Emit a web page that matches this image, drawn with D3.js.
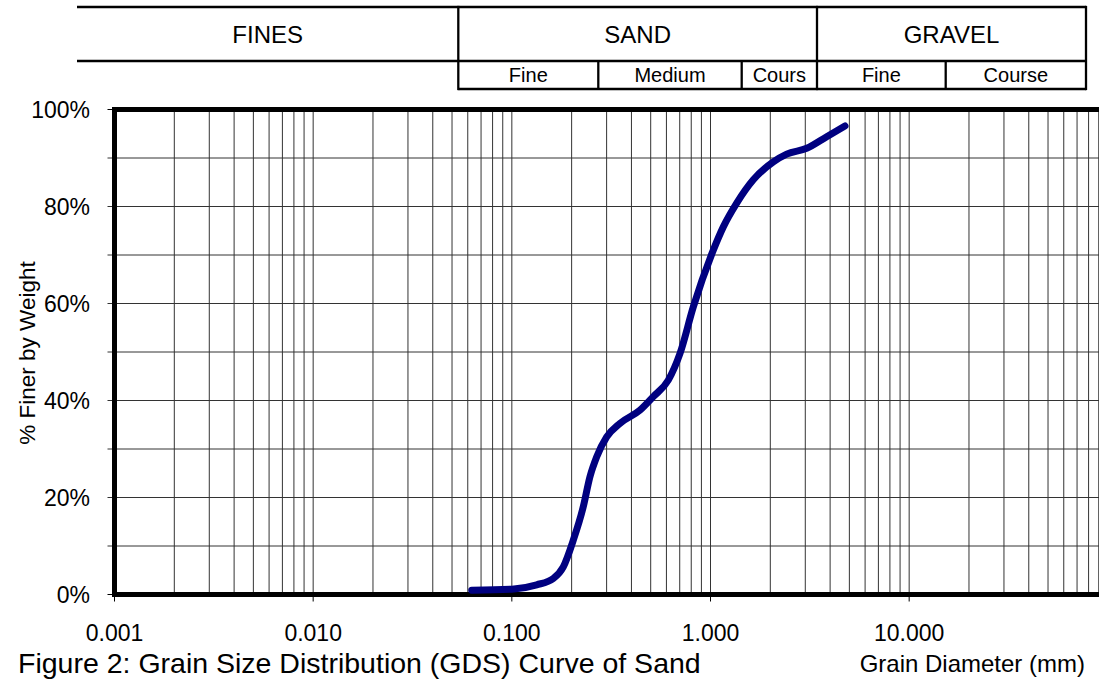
<!DOCTYPE html>
<html>
<head>
<meta charset="utf-8">
<script src="https://cdn.jsdelivr.net/npm/d3@7"></script>
<style>
  html, body { margin: 0; padding: 0; background: #fff; }
  svg { display: block; }
  text { font-family: "Liberation Sans", Arial, Helvetica, sans-serif; fill: #000; }
</style>
</head>
<body>
<svg id="chart" width="1099" height="679"></svg>
<script>
// Sieve analysis of the sand sample: grain diameter (mm) vs cumulative % finer
const grainSizeMm = [0.0628, 0.100, 0.1334, 0.1617, 0.1816, 0.2039, 0.2289, 0.2474,
  0.2675, 0.3003, 0.3504, 0.4417, 0.5155, 0.6134, 0.7024, 0.8193, 1.033, 1.160,
  1.355, 1.642, 2.071, 2.418, 3.050, 3.845, 4.753];
const percentFiner = [0.9, 1.1, 2.0, 3.3, 5.7, 11.2, 18.1, 24.3,
  28.4, 32.5, 35.3, 38.0, 40.8, 44.2, 49.7, 59.3, 71.0, 75.8,
  80.7, 85.5, 89.2, 90.8, 92.0, 94.4, 96.6];

// Axis ticks
const xTickValues = [0.001, 0.01, 0.1, 1, 10];
const xTickLabels = ["0.001", "0.010", "0.100", "1.000", "10.000"];
const yTickValues = [0, 20, 40, 60, 80, 100];
const yTickLabels = ["0%", "20%", "40%", "60%", "80%", "100%"];
const yGridValues = [10, 20, 30, 40, 50, 60, 70, 80, 90];
const xDomain = [0.001, 100];

// Soil classification header
const soilGroups = ["FINES", "SAND", "GRAVEL"];
const soilSubgroups = ["Fine", "Medium", "Cours", "Fine", "Course"];

// ---- layout ----
const svg = d3.select("#chart");
const plot = { left: 114.5, top: 109.5, bottom: 594.5 };
const decadePx = 198.667;
const plotRight = plot.left + decadePx * Math.log10(xDomain[1] / xDomain[0]);

const x = d3.scaleLog().domain(xDomain).range([plot.left, plotRight]);
const y = d3.scaleLinear().domain([0, 100]).range([plot.bottom, plot.top]);

const header = {
  groupEdges: [77, 458.3, 817, 1086],
  subEdges: [458.3, 598.3, 741.7, 817, 945.7, 1086],
  top: 7, mid: 61, bottom: 89
};

// vertical grid: 1..9 within every decade
const minorX = [];
for (let e = -3; e < 2; e++) {
  for (let m = 1; m <= 9; m++) minorX.push(m * Math.pow(10, e));
}
minorX.push(100);

const grid = svg.append("g").attr("class", "grid")
  .attr("stroke", "#333").attr("stroke-width", 1);

grid.selectAll("line.v").data(minorX.filter(v => v > xDomain[0]))
  .join("line").attr("class", "v")
  .attr("x1", d => x(d)).attr("x2", d => x(d))
  .attr("y1", plot.top).attr("y2", plot.bottom);

// horizontal grid lines also run a little past the left axis as ticks
grid.selectAll("line.h").data(yGridValues)
  .join("line").attr("class", "h")
  .attr("x1", plot.left - 7).attr("x2", plotRight)
  .attr("y1", d => y(d)).attr("y2", d => y(d));

// tick marks at the frame edges
const ticks = svg.append("g").attr("stroke", "#000").attr("stroke-width", 1);
ticks.selectAll("line.yt").data([0, 100]).join("line").attr("class", "yt")
  .attr("x1", plot.left - 7).attr("x2", plot.left)
  .attr("y1", d => y(d)).attr("y2", d => y(d));
ticks.selectAll("line.xt").data(xTickValues).join("line").attr("class", "xt")
  .attr("x1", d => x(d)).attr("x2", d => x(d))
  .attr("y1", plot.bottom).attr("y2", plot.bottom + 7);

// plot frame
svg.append("rect")
  .attr("x", plot.left).attr("y", plot.top)
  .attr("width", plotRight - plot.left).attr("height", plot.bottom - plot.top)
  .attr("fill", "none").attr("stroke", "#000").attr("stroke-width", 5);

// y tick labels
svg.append("g").selectAll("text").data(yTickValues).join("text")
  .attr("x", 90).attr("y", d => y(d) + 8.5)
  .attr("text-anchor", "end").attr("font-size", 23)
  .text((d, i) => yTickLabels[i]);

// x tick labels
svg.append("g").selectAll("text").data(xTickValues).join("text")
  .attr("x", d => x(d)).attr("y", 641)
  .attr("text-anchor", "middle").attr("font-size", 23)
  .text((d, i) => xTickLabels[i]);

// axis titles
svg.append("text")
  .attr("transform", "translate(35,353) rotate(-90)")
  .attr("text-anchor", "middle").attr("font-size", 22.5)
  .text("% Finer by Weight");

svg.append("text")
  .attr("x", 1085).attr("y", 672)
  .attr("text-anchor", "end").attr("font-size", 24)
  .text("Grain Diameter (mm)");

svg.append("text")
  .attr("x", 18).attr("y", 672.8)
  .attr("font-size", 28.5)
  .text("Figure 2: Grain Size Distribution (GDS) Curve of Sand");

// gradation curve
const line = d3.line()
  .x((d, i) => x(grainSizeMm[i]))
  .y((d, i) => y(percentFiner[i]))
  .curve(d3.curveMonotoneX);

svg.append("path")
  .datum(grainSizeMm)
  .attr("d", line)
  .attr("fill", "none")
  .attr("stroke", "#000080")
  .attr("stroke-width", 7)
  .attr("stroke-linecap", "round")
  .attr("stroke-linejoin", "round");

// classification header table
const hdr = svg.append("g").attr("stroke", "#000").attr("stroke-width", 2.3);
hdr.append("line").attr("x1", header.groupEdges[0]).attr("x2", header.groupEdges[3])
  .attr("y1", header.top).attr("y2", header.top);
hdr.append("line").attr("x1", header.groupEdges[0]).attr("x2", header.groupEdges[3])
  .attr("y1", header.mid).attr("y2", header.mid);
hdr.append("line").attr("x1", header.subEdges[0]).attr("x2", header.subEdges[5])
  .attr("y1", header.bottom).attr("y2", header.bottom);
hdr.selectAll("line.ge").data(header.groupEdges.slice(1)).join("line").attr("class", "ge")
  .attr("x1", d => d).attr("x2", d => d)
  .attr("y1", header.top - 1.15).attr("y2", header.bottom + 1.15);
hdr.selectAll("line.se").data([header.subEdges[1], header.subEdges[2], header.subEdges[4]])
  .join("line").attr("class", "se")
  .attr("x1", d => d).attr("x2", d => d)
  .attr("y1", header.mid).attr("y2", header.bottom);

svg.append("g").selectAll("text").data(soilGroups).join("text")
  .attr("x", (d, i) => (header.groupEdges[i] + header.groupEdges[i + 1]) / 2)
  .attr("y", 43.3)
  .attr("text-anchor", "middle").attr("font-size", 24)
  .text(d => d);

svg.append("g").selectAll("text").data(soilSubgroups).join("text")
  .attr("x", (d, i) => (header.subEdges[i] + header.subEdges[i + 1]) / 2)
  .attr("y", 81.7)
  .attr("text-anchor", "middle").attr("font-size", 20)
  .text(d => d);
</script>
</body>
</html>
